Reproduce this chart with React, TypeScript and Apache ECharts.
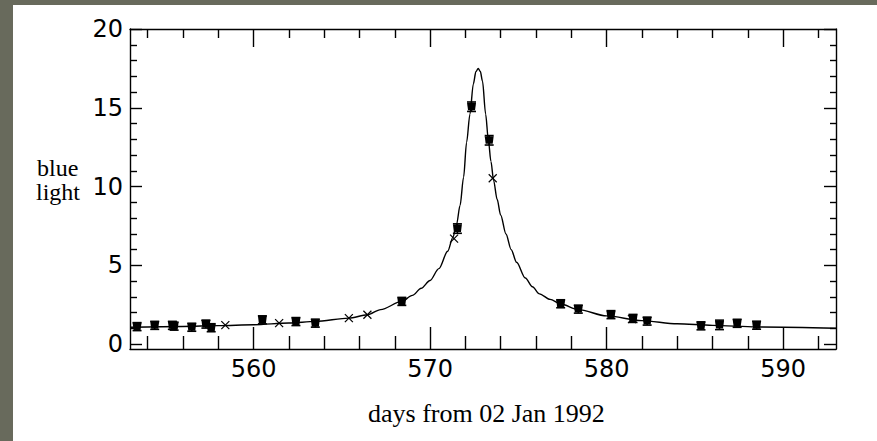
import React, { useEffect, useRef } from "react";
import * as echarts from "echarts";

// Model light curve
const CURVE_DAYS = [553, 556, 558, 560, 562, 563.5, 565.4, 566.45, 567.2, 568.4, 569.0, 569.5, 570.0, 570.5, 571.0, 571.3, 571.5, 571.7, 571.9, 572.07, 572.26, 572.45, 572.6, 572.73, 572.85, 572.97, 573.15, 573.3, 573.45, 573.6, 573.8, 574.0, 574.3, 574.6, 574.9, 575.4, 575.8, 576.2, 576.8, 577.4, 578.4, 580.0, 582.0, 584.0, 586.0, 588.5, 593.0];
const CURVE_FLUX = [1.08, 1.13, 1.18, 1.24, 1.35, 1.45, 1.66, 1.87, 2.2, 2.72, 3.1, 3.55, 4.05, 4.8, 5.9, 6.8, 7.6, 8.8, 10.6, 12.8, 14.6, 16.5, 17.3, 17.5, 17.3, 16.7, 14.6, 13.0, 11.6, 10.4, 9.2, 8.2, 7.0, 6.0, 5.2, 4.2, 3.65, 3.2, 2.85, 2.55, 2.2, 1.8, 1.5, 1.3, 1.2, 1.1, 1.02];

// Observations with error bars (filled symbols)
const OBS_DAYS = [553.4, 554.4, 555.4, 555.5, 556.5, 557.3, 557.6, 560.5, 562.4, 563.5, 568.4, 571.55, 572.35, 573.35, 577.4, 578.4, 580.25, 581.5, 582.3, 585.35, 586.4, 587.4, 588.5];
const OBS_FLUX = [1.12, 1.2, 1.2, 1.15, 1.08, 1.28, 1.05, 1.55, 1.44, 1.34, 2.72, 7.34, 15.07, 12.94, 2.57, 2.23, 1.88, 1.64, 1.47, 1.17, 1.23, 1.33, 1.21];
const OBS_ERR = [0.12, 0.15, 0.15, 0.1, 0.08, 0.12, 0.1, 0.15, 0.08, 0.08, 0.08, 0.3, 0.3, 0.3, 0.08, 0.2, 0.15, 0.1, 0.08, 0.05, 0.3, 0.2, 0.1];

// Observations shown as crosses
const CROSS_DAYS = [558.4, 561.45, 565.4, 566.45, 571.36, 573.55, 581.44];
const CROSS_FLUX = [1.21, 1.34, 1.66, 1.87, 6.7, 10.53, 1.6];

// Ticks
const X_MAJOR = [560, 570, 580, 590];
const X_MINOR = [554, 556, 558, 562, 564, 566, 568, 572, 574, 576, 578, 582, 584, 586, 588, 592];
const Y_MAJOR = [0, 5, 10, 15, 20];
const Y_MINOR = [1, 2, 3, 4, 6, 7, 8, 9, 11, 12, 13, 14, 16, 17, 18, 19];

const X_MIN = 553;
const X_MAX = 593;
const Y_MIN = -0.3;
const Y_MAX = 20;

const LINE = { color: "#000", width: 1.4 };

function xAxisDef(position: string, ticks: number[], len: number, showLine: boolean, showLabel: boolean) {
  return {
    type: "value",
    position,
    min: X_MIN,
    max: X_MAX,
    splitLine: { show: false },
    axisLine: { show: showLine, lineStyle: LINE, onZero: false },
    axisTick: { show: true, inside: true, length: len, customValues: ticks, lineStyle: LINE },
    axisLabel: showLabel
      ? { show: true, customValues: ticks, color: "#000", fontFamily: "DejaVu Sans", fontSize: 24, margin: 8 }
      : { show: false },
  };
}

function yAxisDef(position: string, ticks: number[], len: number, showLine: boolean, showLabel: boolean) {
  return {
    type: "value",
    position,
    min: Y_MIN,
    max: Y_MAX,
    splitLine: { show: false },
    axisLine: { show: showLine, lineStyle: LINE, onZero: false },
    axisTick: { show: true, inside: true, length: len, customValues: ticks, lineStyle: LINE },
    axisLabel: showLabel
      ? { show: true, customValues: ticks, color: "#000", fontFamily: "DejaVu Sans", fontSize: 24, margin: 7 }
      : { show: false },
  };
}

export default function App() {
  const ref = useRef<HTMLDivElement>(null);

  useEffect(() => {
    if (!ref.current) return;
    const chart = echarts.init(ref.current, undefined, { renderer: "svg" });

    const curve = CURVE_DAYS.map((d, i) => [d, CURVE_FLUX[i]]);
    const obs = OBS_DAYS.map((d, i) => [d, OBS_FLUX[i], OBS_ERR[i]]);
    const crosses = CROSS_DAYS.map((d, i) => [d, CROSS_FLUX[i]]);

    chart.setOption({
      animation: false,
      backgroundColor: "#fff",
      grid: { left: 117, top: 24, right: 41, bottom: 92, containLabel: false },
      xAxis: [
        xAxisDef("bottom", X_MAJOR, 22, true, true),
        xAxisDef("bottom", X_MINOR, 13, false, false),
        xAxisDef("top", X_MAJOR, 18, true, false),
        xAxisDef("top", X_MINOR, 9, false, false),
      ],
      yAxis: [
        yAxisDef("left", Y_MAJOR, 12, true, true),
        yAxisDef("left", Y_MINOR, 7, false, false),
        yAxisDef("right", Y_MAJOR, 12, true, false),
        yAxisDef("right", Y_MINOR, 6, false, false),
      ],
      graphic: [
        {
          type: "text",
          left: 24,
          top: 151,
          style: { text: "blue", font: "24px 'Liberation Serif'", fill: "#000" },
        },
        {
          type: "text",
          left: 23,
          top: 175,
          style: { text: "light", font: "24px 'Liberation Serif'", fill: "#000" },
        },
        {
          type: "text",
          left: 355,
          top: 395,
          style: {
            text: "days from 02 Jan 1992",
            font: "26px 'Liberation Serif'",
            fill: "#000",
          },
        },
      ],
      series: [
        {
          type: "line",
          data: curve,
          xAxisIndex: 0,
          yAxisIndex: 0,
          smooth: 0.3,
          smoothMonotone: "x",
          showSymbol: false,
          symbol: "none",
          lineStyle: { color: "#000", width: 1.4 },
          clip: true,
        },
        {
          type: "custom",
          xAxisIndex: 0,
          yAxisIndex: 0,
          data: obs,
          clip: true,
          renderItem: (params: any, api: any) => {
            const x = api.value(0);
            const y = api.value(1);
            const e = api.value(2);
            const p = api.coord([x, y]);
            const t = api.coord([x, y + e]);
            const b = api.coord([x, y - e]);
            const top = Math.min(t[1], p[1] - 4);
            const bot = Math.max(b[1], p[1] + 4);
            const st = { stroke: "#000", lineWidth: 1.6 };
            return {
              type: "group",
              children: [
                { type: "line", shape: { x1: p[0], y1: top, x2: p[0], y2: bot }, style: st },
                { type: "line", shape: { x1: p[0] - 4.5, y1: top, x2: p[0] + 4.5, y2: top }, style: st },
                { type: "line", shape: { x1: p[0] - 4.5, y1: bot, x2: p[0] + 4.5, y2: bot }, style: st },
                {
                  type: "polygon",
                  shape: {
                    points: [
                      [p[0] - 4.5, p[1] - 4],
                      [p[0] + 4.5, p[1] - 4],
                      [p[0] + 3.5, p[1] + 3.5],
                      [p[0] - 3.5, p[1] + 3.5],
                    ],
                  },
                  style: { fill: "#000" },
                },
              ],
            };
          },
        },
        {
          type: "custom",
          xAxisIndex: 0,
          yAxisIndex: 0,
          data: crosses,
          clip: true,
          renderItem: (params: any, api: any) => {
            const p = api.coord([api.value(0), api.value(1)]);
            const s = 4;
            const st = { stroke: "#000", lineWidth: 1.2 };
            return {
              type: "group",
              children: [
                { type: "line", shape: { x1: p[0] - s, y1: p[1] - s, x2: p[0] + s, y2: p[1] + s }, style: st },
                { type: "line", shape: { x1: p[0] - s, y1: p[1] + s, x2: p[0] + s, y2: p[1] - s }, style: st },
              ],
            };
          },
        },
      ],
    });

    return () => chart.dispose();
  }, []);

  return (
    <div style={{ position: "absolute", left: 0, top: 0, width: 877, height: 441, background: "#686a5c" }}>
      <div
        ref={ref}
        style={{ position: "absolute", left: 13, top: 5, width: 864, height: 436, background: "#fff" }}
      />
    </div>
  );
}
